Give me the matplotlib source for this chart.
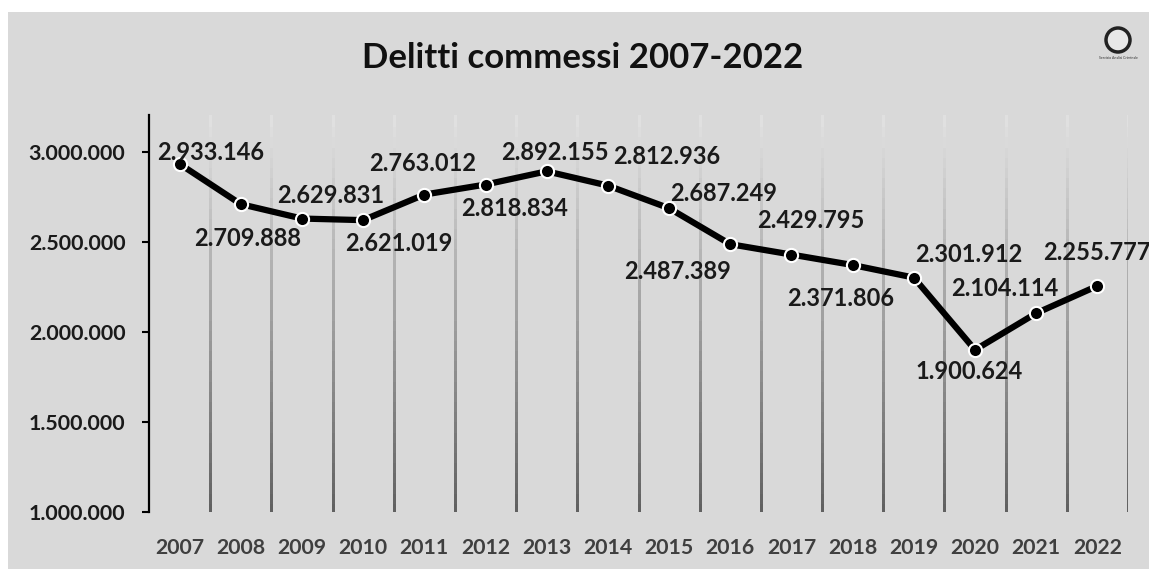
import numpy as np
import matplotlib.pyplot as plt
from matplotlib.collections import LineCollection
from matplotlib.patches import Ellipse
from matplotlib.ticker import FuncFormatter

plt.rcParams['font.family'] = ['Lato', 'DejaVu Sans']

# data
years = ['2007', '2008', '2009', '2010', '2011', '2012', '2013', '2014',
         '2015', '2016', '2017', '2018', '2019', '2020', '2021', '2022']
crimes = [2933146, 2709888, 2629831, 2621019, 2763012, 2818834, 2892155, 2812936,
          2687249, 2487389, 2429795, 2371806, 2301912, 1900624, 2104114, 2255777]
yticks = [1000000, 1500000, 2000000, 2500000, 3000000]

# label offsets in pixels (dx, dy)
offsets = [(31, 11), (7, -34), (29, 23), (36, -23), (-2, 31), (29, -24),
           (8, 19), (59, 29), (55, 15), (-53, -27), (19, 34), (-12, -33),
           (55, 23), (-6, -22), (-31, 25), (-1, 33)]

def fmt(v):
    return f'{int(v):,}'.replace(',', '.')

W, H = 1149, 569
fig = plt.figure(figsize=(W / 100, H / 100), dpi=100, facecolor='white')

# grey background panel
bg = fig.add_axes([8 / W, 0, 1 - 8 / W, 1 - 12 / H], zorder=0)
bg.set_facecolor('#d9d9d9')
bg.set_xticks([])
bg.set_yticks([])
for s in bg.spines.values():
    s.set_visible(False)

ax = fig.add_axes([149 / W, 1 - 512 / H, (1128 - 149) / W, (512 - 115) / H], zorder=1)
ax.set_facecolor('none')
ax.set_xlim(-0.5, len(years) - 0.5)
ax.set_ylim(1000000, 3205000)

# gradient vertical gridlines
ys = np.linspace(1000000, 3205000, 40)
for b in np.arange(0.5, len(years), 1.0):
    segs = [[(b, ys[i]), (b, ys[i + 1])] for i in range(len(ys) - 1)]
    t = np.linspace(0, 1, len(segs))
    cols = [(0.38 + 0.5 * k, 0.38 + 0.5 * k, 0.38 + 0.5 * k) for k in t]
    ax.add_collection(LineCollection(segs, colors=cols, linewidths=1.8, zorder=1,
                                     capstyle='projecting', antialiaseds=False))

x = np.arange(len(years))
ax.plot(x, crimes, color='black', lw=4.5, zorder=3,
        marker='o', markersize=9.5, markerfacecolor='black',
        markeredgecolor='white', markeredgewidth=1.5)

for xi, v, (dx, dy) in zip(x, crimes, offsets):
    ax.annotate(fmt(v), (xi, v), xytext=(dx, dy), textcoords='offset pixels',
                ha='center', va='center', fontsize=17, fontweight='bold',
                color='#1a1a1a', zorder=4)

ax.set_yticks(yticks)
ax.yaxis.set_major_formatter(FuncFormatter(lambda v, p: fmt(v)))
ax.set_xticks(x)
ax.set_xticklabels(years)
ax.tick_params(axis='y', length=5, width=1.5, direction='out', pad=12,
               labelsize=15.4, labelcolor='#1a1a1a')
ax.tick_params(axis='x', length=0, pad=19, labelsize=15.3, labelcolor='#3f3f3f')
for lab in ax.get_xticklabels() + ax.get_yticklabels():
    lab.set_fontweight('bold')

for s in ['top', 'right', 'bottom']:
    ax.spines[s].set_visible(False)
ax.spines['left'].set_linewidth(1.6)
ax.spines['left'].set_color('black')

fig.text(583 / W, 1 - 58 / H, 'Delitti commessi 2007-2022', ha='center', va='center',
         fontsize=25, fontweight='bold', color='#111111', zorder=3)

# small logo in the corner
fig.patches.append(Ellipse((1118 / W, 1 - 40 / H), 24 / W, 24 / H, transform=fig.transFigure,
                           facecolor='#e8e8e8', edgecolor='#222222', lw=2.5, zorder=3))
fig.text(1118 / W, 1 - 58 / H, 'Servizio Analisi Criminale', ha='center', va='center',
         fontsize=2.5, color='#333333', zorder=3)

plt.savefig('out.png', dpi=100, facecolor=fig.get_facecolor())
